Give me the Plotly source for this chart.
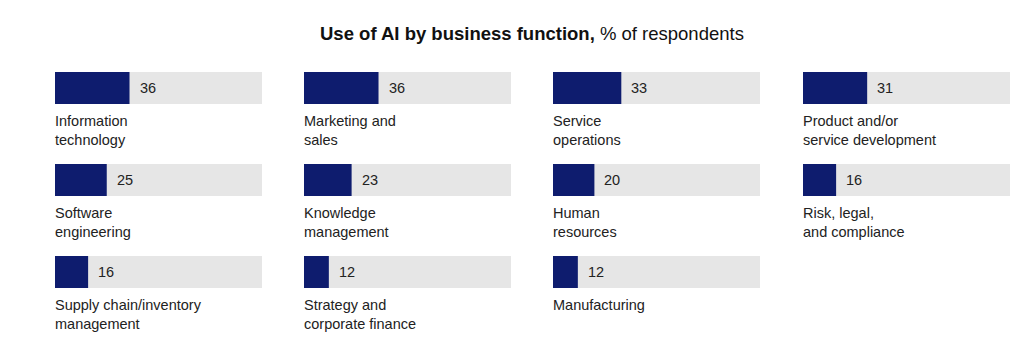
import plotly.graph_objects as go

categories = [
    "Information<br>technology", "Marketing and<br>sales", "Service<br>operations",
    "Product and/or<br>service development",
    "Software<br>engineering", "Knowledge<br>management", "Human<br>resources",
    "Risk, legal,<br>and compliance",
    "Supply chain/inventory<br>management", "Strategy and<br>corporate finance",
    "Manufacturing",
]
values = [36, 36, 33, 31, 25, 23, 20, 16, 16, 12, 12]
full = 100

W, H = 1024, 343
col_left = [55, 304, 553, 803]
bar_w = 207
row_top = [72, 164, 256]
bar_h = 32
NAVY = "#0E1C6E"
GRAY = "#E6E6E6"
TXT = "#222222"
FONT = "Liberation Sans, Arial, sans-serif"

fig = go.Figure()
annotations = []
layout_axes = {}
for i, (cat, v) in enumerate(zip(categories, values)):
    r, c = divmod(i, 4)
    n = i + 1
    xa = "x" if n == 1 else f"x{n}"
    ya = "y" if n == 1 else f"y{n}"
    x0 = col_left[c] / W
    x1 = (col_left[c] + bar_w) / W
    y1 = 1 - row_top[r] / H
    y0 = 1 - (row_top[r] + bar_h) / H
    fig.add_trace(go.Bar(x=[full], y=[0], orientation="h", marker=dict(color=GRAY, line_width=0),
                         width=1, xaxis=xa, yaxis=ya, hoverinfo="skip", showlegend=False))
    fig.add_trace(go.Bar(x=[v], y=[0], orientation="h", marker=dict(color=NAVY, line_width=0),
                         width=1, xaxis=xa, yaxis=ya, showlegend=False))
    xkey = "xaxis" if n == 1 else f"xaxis{n}"
    ykey = "yaxis" if n == 1 else f"yaxis{n}"
    layout_axes[xkey] = dict(domain=[x0, x1], range=[0, full], visible=False, fixedrange=True,
                             anchor=ya)
    layout_axes[ykey] = dict(domain=[y0, y1], range=[-0.5, 0.5], visible=False, fixedrange=True,
                             anchor=xa)
    annotations.append(dict(x=v, y=0, xref=xa, yref=ya, text=str(v), showarrow=False,
                            xanchor="left", yanchor="middle", xshift=8,
                            font=dict(family=FONT, size=14.5, color=TXT)))
    annotations.append(dict(x=0, y=y0 - 7 / H, xref=xa, yref="paper", text=cat, showarrow=False,
                            xanchor="left", yanchor="top", align="left", xshift=-2,
                            font=dict(family=FONT, size=14.5, color=TXT)))

annotations.append(dict(x=532 / W, y=1 - 33 / H, xref="paper", yref="paper",
                        text="<b>Use of AI by business function,</b> % of respondents",
                        showarrow=False, xanchor="center", yanchor="middle",
                        font=dict(family=FONT, size=18.5, color="#111111")))

fig.update_layout(width=W, height=H, margin=dict(l=0, r=0, t=0, b=0),
                  paper_bgcolor="white", plot_bgcolor="rgba(0,0,0,0)",
                  barmode="overlay", annotations=annotations, **layout_axes)
fig.write_html("out.html")
